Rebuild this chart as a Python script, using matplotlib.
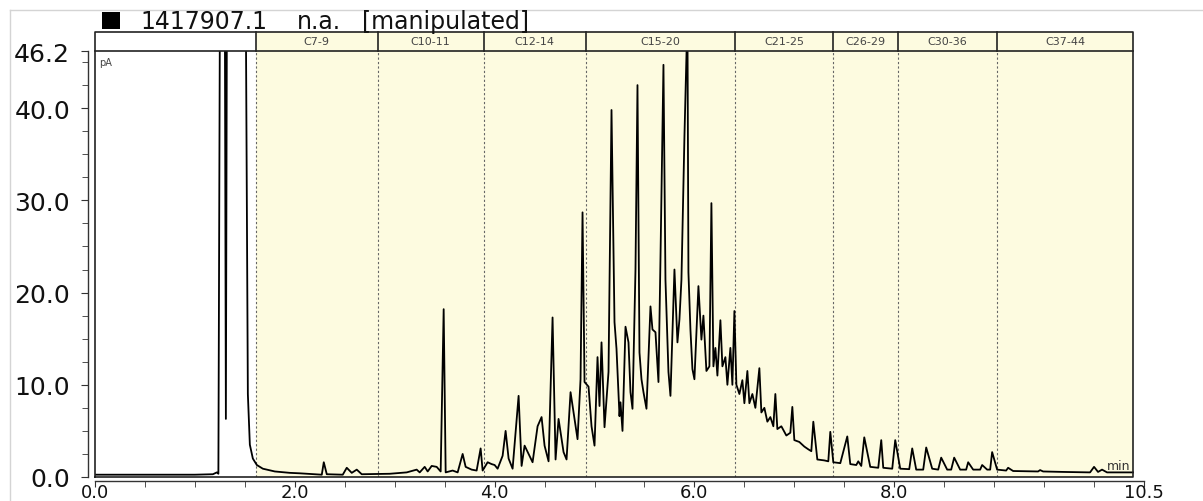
import numpy as np
import matplotlib
matplotlib.use("Agg")
import matplotlib.pyplot as plt
from matplotlib.patches import Rectangle
from matplotlib.lines import Line2D

# ---- data ------------------------------------------------------------------
# retention time (min) / signal (pA); values above 46.2 are off-scale peaks
time_min = [0.00, 0.50, 1.00, 1.18, 1.22, 1.235, 1.25, 1.30, 1.31, 1.32, 1.51,
            1.53, 1.55, 1.58, 1.62, 1.68, 1.80, 1.95, 2.05, 2.27, 2.29, 2.32,
            2.48, 2.52, 2.57, 2.62, 2.67, 2.95, 3.12, 3.22, 3.25, 3.30, 3.33,
            3.37, 3.42, 3.46, 3.49, 3.51, 3.58, 3.63, 3.68, 3.71, 3.77, 3.82,
            3.86, 3.88, 3.93, 3.97, 4.00, 4.03, 4.08, 4.11, 4.14, 4.18, 4.24,
            4.27, 4.30, 4.34, 4.38, 4.43, 4.47, 4.50, 4.54, 4.58, 4.61, 4.64,
            4.69, 4.72, 4.76, 4.79, 4.83, 4.86, 4.88, 4.90, 4.94, 4.97, 5.00,
            5.03, 5.05, 5.07, 5.10, 5.14, 5.17, 5.20, 5.22, 5.25, 5.26, 5.28,
            5.31, 5.34, 5.36, 5.38, 5.41, 5.43, 5.45, 5.47, 5.49, 5.52, 5.56,
            5.58, 5.61, 5.64, 5.66, 5.69, 5.71, 5.74, 5.76, 5.80, 5.83, 5.85,
            5.87, 5.90, 5.93, 5.94, 5.96, 5.98, 6.00, 6.04, 6.07, 6.09, 6.12,
            6.15, 6.17, 6.19, 6.21, 6.23, 6.26, 6.28, 6.31, 6.33, 6.36, 6.38,
            6.40, 6.42, 6.45, 6.48, 6.50, 6.53, 6.55, 6.58, 6.61, 6.65, 6.67,
            6.70, 6.73, 6.76, 6.79, 6.81, 6.83, 6.87, 6.92, 6.96, 6.98, 7.00,
            7.05, 7.10, 7.14, 7.17, 7.19, 7.23, 7.30, 7.34, 7.36, 7.39, 7.46,
            7.53, 7.56, 7.62, 7.64, 7.67, 7.70, 7.76, 7.84, 7.87, 7.89, 7.98,
            8.01, 8.06, 8.15, 8.18, 8.22, 8.29, 8.32, 8.38, 8.44, 8.47, 8.53,
            8.57, 8.60, 8.66, 8.72, 8.74, 8.79, 8.86, 8.88, 8.93, 8.96, 8.98,
            9.03, 9.12, 9.14, 9.19, 9.44, 9.46, 9.49, 9.69, 9.96, 10.00, 10.04,
            10.08, 10.13, 10.39]
signal_pa = [0.25, 0.25, 0.25, 0.3, 0.5, 0.35, 50, 50, 6.3, 50, 50,
             9.0, 3.5, 2.0, 1.3, 0.9, 0.6, 0.45, 0.4, 0.25, 1.6, 0.3,
             0.25, 1.0, 0.45, 0.8, 0.3, 0.35, 0.5, 0.8, 0.5, 1.1, 0.6,
             1.2, 1.1, 0.6, 18.2, 0.5, 0.7, 0.5, 2.5, 1.1, 0.8, 0.7,
             3.1, 0.7, 1.6, 1.4, 1.3, 0.9, 2.3, 5.0, 2.0, 0.9, 8.8,
             1.2, 3.4, 2.5, 1.6, 5.5, 6.5, 3.4, 1.7, 17.3, 1.9, 6.3,
             2.7, 1.9, 9.2, 7.0, 4.1, 10.6, 28.7, 10.3, 9.8, 5.5, 3.4,
             13.0, 7.7, 14.6, 5.4, 11.4, 39.8, 16.8, 13.9, 6.6, 8.1, 5.0,
             16.3, 14.6, 9.2, 7.4, 22.5, 42.5, 13.5, 10.6, 9.2, 7.4, 18.5,
             16.0, 15.7, 10.3, 23.6, 44.7, 21.4, 11.4, 8.8, 22.5, 14.6, 17.1,
             21.4, 36.9, 50, 22.2, 16.0, 11.7, 10.6, 20.7, 14.9, 17.5, 11.5,
             12.0, 29.7, 12.0, 14.0, 11.0, 17.0, 12.0, 13.0, 10.0, 14.0, 10.0,
             18.0, 10.0, 9.0, 10.5, 8.0, 11.5, 8.0, 9.0, 7.5, 11.8, 7.0,
             7.5, 6.0, 6.5, 5.5, 9.0, 5.2, 5.5, 4.5, 4.8, 7.6, 4.0,
             3.8, 3.3, 3.0, 2.8, 6.0, 1.9, 1.8, 1.7, 4.9, 1.6, 1.5,
             4.4, 1.4, 1.3, 1.7, 1.2, 4.3, 1.1, 1.0, 4.0, 1.0, 0.9,
             4.0, 0.9, 0.85, 3.1, 0.8, 0.8, 3.2, 0.9, 0.8, 2.1, 0.8,
             0.8, 2.1, 0.8, 0.8, 1.6, 0.8, 0.8, 1.3, 0.8, 0.8, 2.7,
             0.8, 0.7, 1.0, 0.65, 0.6, 0.75, 0.6, 0.55, 0.5, 1.1, 0.55,
             0.8, 0.5, 0.5]

# carbon-range windows (min) and their header labels
window_edges = [0.0, 1.61, 2.83, 3.89, 4.91, 6.41, 7.39, 8.04, 9.03, 10.39]
window_labels = ["", "C7-9", "C10-11", "C12-14", "C15-20", "C21-25",
                 "C26-29", "C30-36", "C37-44"]

x_major = [0.0, 2.0, 4.0, 6.0, 8.0, 10.5]
x_labels = ["0.0", "2.0", "4.0", "6.0", "8.0", "10.5"]
y_major = [0.0, 10.0, 20.0, 30.0, 40.0, 46.2]
y_labels = ["0.0", "10.0", "20.0", "30.0", "40.0", "46.2"]
Y_TOP = 46.2
HDR_TOP = 48.3

YELLOW = "#fdfbe0"
INK = "#222222"

# ---- figure -----------------------------------------------------------------
W, H = 1203, 502
fig = plt.figure(figsize=(W / 100, H / 100), dpi=100)
fig.patch.set_facecolor("white")
ax = fig.add_axes([95 / W, (H - 478) / H, 1049 / W, 426 / H])
ax.set_xlim(0, 10.5)
ax.set_ylim(0, Y_TOP)

x_end = window_edges[-1]
ax.axvspan(window_edges[1], x_end, color=YELLOW, lw=0, zorder=0)
for b in window_edges[1:-1]:
    ax.axvline(b, color="#666666", lw=0.8, ls=(0, (2, 2)), zorder=1)

ax.plot(time_min, signal_pa, color="black", lw=1.3, zorder=3)

# header strip with window labels
for i, lab in enumerate(window_labels):
    x0, x1 = window_edges[i], window_edges[i + 1]
    fc = "white" if i == 0 else YELLOW
    ax.add_patch(Rectangle((x0, Y_TOP), x1 - x0, HDR_TOP - Y_TOP, facecolor=fc,
                           edgecolor="none", clip_on=False, zorder=2))
    if i > 0:
        ax.plot([x0, x0], [Y_TOP, HDR_TOP], color=INK, lw=1.2, clip_on=False, zorder=4)
    ax.text((x0 + x1) / 2, (Y_TOP + HDR_TOP) / 2, lab, ha="center", va="center",
            fontsize=8, color="#444444", clip_on=False, zorder=5)

# outer chart box
ax.plot([0, 0, x_end, x_end, 0], [0, HDR_TOP, HDR_TOP, 0, 0], color=INK, lw=1.2,
        clip_on=False, zorder=4)
ax.plot([0, x_end], [Y_TOP, Y_TOP], color=INK, lw=1.2, clip_on=False, zorder=4)

ax.text(0.04, 45.0, "pA", fontsize=7, color="#444444", ha="left", va="center")
ax.text(10.36, 1.2, "min", fontsize=9, color="#333333", ha="right", va="center")

# axes styling
for s in ("top", "right"):
    ax.spines[s].set_visible(False)
ax.spines["left"].set_position(("outward", 5))
ax.spines["bottom"].set_position(("outward", 3))
for s in ("left", "bottom"):
    ax.spines[s].set_color("#333333")
    ax.spines[s].set_linewidth(1.0)

ax.set_xticks(x_major)
ax.set_xticklabels(x_labels)
ax.set_xticks(np.arange(0, 10.51, 0.5), minor=True)
ax.set_yticks(y_major)
ax.set_yticklabels(y_labels)
ax.set_yticks(np.arange(0, 46.2, 2.5), minor=True)
ax.tick_params(which="both", direction="out", color="#333333", labelcolor="#111111")
ax.tick_params(axis="y", which="major", length=5)
ax.tick_params(axis="y", which="minor", length=4)
ax.tick_params(axis="x", which="both", length=4)
ax.tick_params(axis="y", labelsize=18, pad=8)
ax.tick_params(axis="x", labelsize=13, pad=-3)
ax.set_facecolor("white")

# title with black marker square
fig.add_artist(Rectangle((102 / W, 1 - 30 / H), 18 / W, 17 / H, transform=fig.transFigure,
                         facecolor="black", edgecolor="none"))
for x_px, txt in ((140, "1417907.1"), (297, "n.a."), (362, "[manipulated]")):
    fig.text(x_px / W, 1 - 22 / H, txt, fontsize=17, color="#111111",
             ha="left", va="center")

# faint window frame
fig.add_artist(Line2D([10 / W, 10 / W], [0, 1 - 11 / H], transform=fig.transFigure,
                      color="#d4d4d4", lw=1))
fig.add_artist(Line2D([10 / W, 1], [1 - 11 / H, 1 - 11 / H], transform=fig.transFigure,
                      color="#d4d4d4", lw=1))

fig.savefig("out.png", dpi=100)
